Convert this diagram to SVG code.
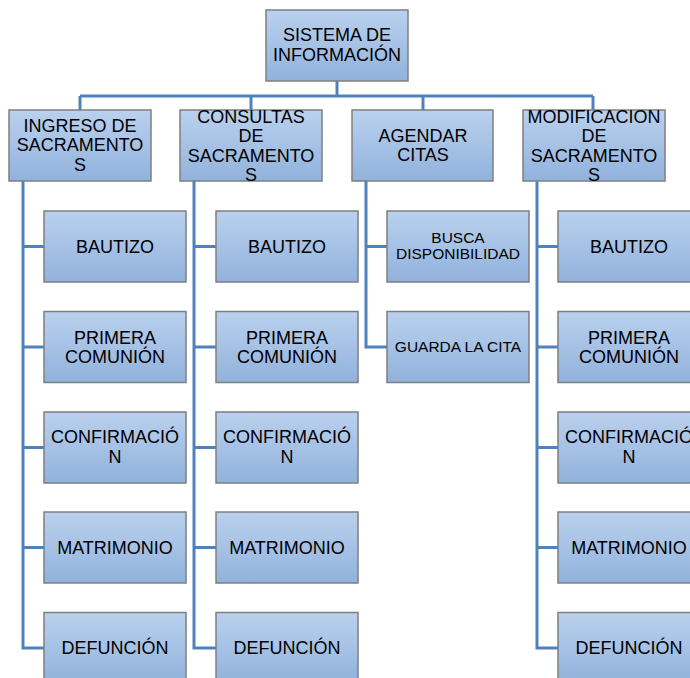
<svg xmlns="http://www.w3.org/2000/svg" width="690" height="678" viewBox="0 0 690 678">
<defs>
<linearGradient id="g" x1="0" y1="0" x2="0" y2="1">
<stop offset="0" stop-color="#bad1ee"/>
<stop offset="1" stop-color="#91b2dc"/>
</linearGradient>
<style>
.b{fill:url(#g);stroke:#7f7f7f;stroke-width:1.5}
.t{font-family:"Liberation Sans",Arial,sans-serif;font-size:18px;fill:#000;text-anchor:middle}
.s{font-size:15.5px}
.c{fill:none;stroke:#4f81bd;stroke-width:3}
</style>
</defs>
<rect width="690" height="678" fill="#fff"/>
<g id="connectors">
<path class="c" d="M337,81V96M80,96H593M80,96V110M251,96V110M423,96V110M593,96V110"/>
<path class="c" d="M23,181V648H44M23,246.5H44M23,347H44M23,447.5H44M23,547.5H44"/>
<path class="c" d="M194,181V648H216M194,246.5H216M194,347H216M194,447.5H216M194,547.5H216"/>
<path class="c" d="M366,181V347H387M366,246.5H387"/>
<path class="c" d="M537,181V648H558M537,246.5H558M537,347H558M537,447.5H558M537,547.5H558"/>
</g>
<g id="root"><rect class="b" x="266" y="10" width="142" height="71"/><text class="t" x="337" y="41">SISTEMA DE</text><text class="t" x="337" y="61">INFORMACIÓN</text></g>
<g id="ingreso"><rect class="b" x="9" y="110" width="142" height="71"/><text class="t" x="80" y="132">INGRESO DE</text><text class="t" x="80" y="151">SACRAMENTO</text><text class="t" x="80" y="171">S</text></g>
<g id="consultas"><rect class="b" x="180" y="110" width="142" height="71"/><text class="t" x="251" y="123">CONSULTAS</text><text class="t" x="251" y="142">DE</text><text class="t" x="251" y="162">SACRAMENTO</text><text class="t" x="251" y="181">S</text></g>
<g id="agendar"><rect class="b" x="352" y="110" width="141" height="71"/><text class="t" x="423" y="142">AGENDAR</text><text class="t" x="423" y="161">CITAS</text></g>
<g id="modificacion"><rect class="b" x="523" y="110" width="142" height="71"/><text class="t" x="594" y="123">MODIFICACION</text><text class="t" x="594" y="142">DE</text><text class="t" x="594" y="162">SACRAMENTO</text><text class="t" x="594" y="181">S</text></g>

<g id="i-bautizo"><rect class="b" x="44" y="211" width="142" height="71"/><text class="t" x="115" y="253">BAUTIZO</text></g>
<g id="i-comunion"><rect class="b" x="44" y="311.5" width="142" height="71"/><text class="t" x="115" y="344">PRIMERA</text><text class="t" x="115" y="363">COMUNIÓN</text></g>
<g id="i-confirmacion"><rect class="b" x="44" y="412" width="142" height="71"/><text class="t" x="115" y="443">CONFIRMACIÓ</text><text class="t" x="115" y="463">N</text></g>
<g id="i-matrimonio"><rect class="b" x="44" y="512" width="142" height="71"/><text class="t" x="115" y="554">MATRIMONIO</text></g>
<g id="i-defuncion"><rect class="b" x="44" y="612.5" width="142" height="71"/><text class="t" x="115" y="654">DEFUNCIÓN</text></g>

<g id="c-bautizo"><rect class="b" x="216" y="211" width="142" height="71"/><text class="t" x="287" y="253">BAUTIZO</text></g>
<g id="c-comunion"><rect class="b" x="216" y="311.5" width="142" height="71"/><text class="t" x="287" y="344">PRIMERA</text><text class="t" x="287" y="363">COMUNIÓN</text></g>
<g id="c-confirmacion"><rect class="b" x="216" y="412" width="142" height="71"/><text class="t" x="287" y="443">CONFIRMACIÓ</text><text class="t" x="287" y="463">N</text></g>
<g id="c-matrimonio"><rect class="b" x="216" y="512" width="142" height="71"/><text class="t" x="287" y="554">MATRIMONIO</text></g>
<g id="c-defuncion"><rect class="b" x="216" y="612.5" width="142" height="71"/><text class="t" x="287" y="654">DEFUNCIÓN</text></g>

<g id="a-busca"><rect class="b" x="387" y="211" width="142" height="71"/><text class="t s" x="458" y="243">BUSCA</text><text class="t s" x="458" y="259">DISPONIBILIDAD</text></g>
<g id="a-guarda"><rect class="b" x="387" y="311.5" width="142" height="71"/><text class="t s" x="458" y="352">GUARDA LA CITA</text></g>

<g id="m-bautizo"><rect class="b" x="558" y="211" width="142" height="71"/><text class="t" x="629" y="253">BAUTIZO</text></g>
<g id="m-comunion"><rect class="b" x="558" y="311.5" width="142" height="71"/><text class="t" x="629" y="344">PRIMERA</text><text class="t" x="629" y="363">COMUNIÓN</text></g>
<g id="m-confirmacion"><rect class="b" x="558" y="412" width="142" height="71"/><text class="t" x="629" y="443">CONFIRMACIÓ</text><text class="t" x="629" y="463">N</text></g>
<g id="m-matrimonio"><rect class="b" x="558" y="512" width="142" height="71"/><text class="t" x="629" y="554">MATRIMONIO</text></g>
<g id="m-defuncion"><rect class="b" x="558" y="612.5" width="142" height="71"/><text class="t" x="629" y="654">DEFUNCIÓN</text></g>
</svg>
